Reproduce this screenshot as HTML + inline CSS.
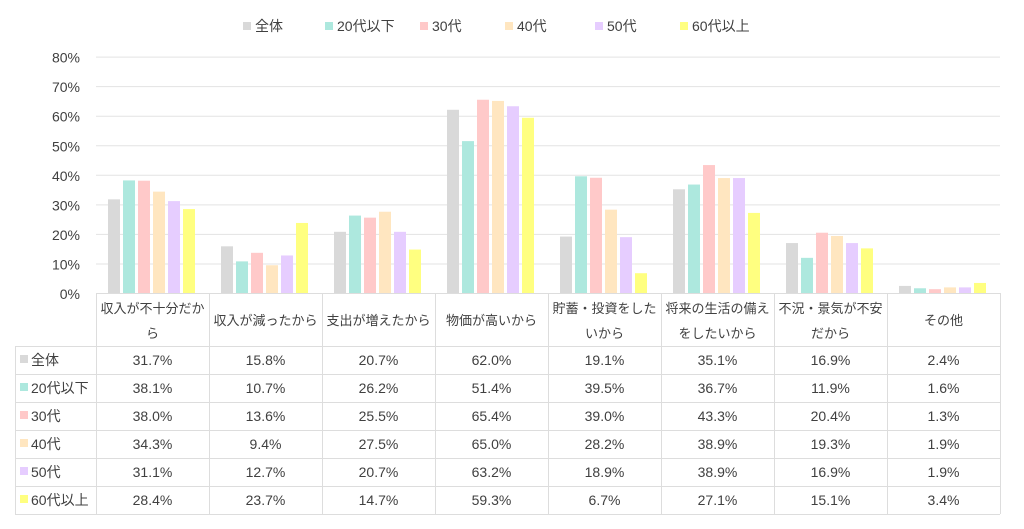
<!DOCTYPE html>
<html><head><meta charset="utf-8"><style>
body{margin:0;background:#fff;}
svg text{font-family:"Liberation Sans","Noto Sans CJK JP",sans-serif;fill:#404040;}
</style></head><body>
<svg width="1024" height="524" xmlns="http://www.w3.org/2000/svg">
<g font-size="14">
<rect x="243" y="22" width="8" height="8" fill="#d9d9d9"/><text x="255" y="31">全体</text>
<rect x="325" y="22" width="8" height="8" fill="#ade8de"/><text x="337" y="31">20代以下</text>
<rect x="420" y="22" width="8" height="8" fill="#ffc9c9"/><text x="432" y="31">30代</text>
<rect x="505" y="22" width="8" height="8" fill="#ffe6c0"/><text x="517" y="31">40代</text>
<rect x="595" y="22" width="8" height="8" fill="#e6cdff"/><text x="607" y="31">50代</text>
<rect x="680" y="22" width="8" height="8" fill="#ffff80"/><text x="692" y="31">60代以上</text>
</g>
<g id="grid" stroke="#e3e3e3" stroke-width="1"></g>
<g id="bars"></g>
<g id="tbl"></g>
<script>
var ns="http://www.w3.org/2000/svg";
function el(p,t,a,txt){var e=document.createElementNS(ns,t);for(var k in a)e.setAttribute(k,a[k]);if(txt!=null)e.textContent=txt;document.getElementById(p).appendChild(e);return e;}
var y0=293,u=2.955;
for(var i=0;i<=8;i++){var y=y0-i*10*u;if(i>0)el("grid","line",{x1:96,x2:1000,y1:y+.5,y2:y+.5});el("grid","text",{x:80,y:y+6,"font-size":14,"text-anchor":"end",stroke:"none"},(i*10)+"%");}
var cols=["#d9d9d9","#ade8de","#ffc9c9","#ffe6c0","#e6cdff","#ffff80"];
var names=["全体","20代以下","30代","40代","50代","60代以上"];
var d=[[31.7,15.8,20.7,62.0,19.1,35.1,16.9,2.4],[38.1,10.7,26.2,51.4,39.5,36.7,11.9,1.6],[38.0,13.6,25.5,65.4,39.0,43.3,20.4,1.3],[34.3,9.4,27.5,65.0,28.2,38.9,19.3,1.9],[31.1,12.7,20.7,63.2,18.9,38.9,16.9,1.9],[28.4,23.7,14.7,59.3,6.7,27.1,15.1,3.4]];
var cw=113;
for(var c=0;c<8;c++)for(var s=0;s<6;s++){var h=d[s][c]*u;el("bars","rect",{x:96+c*cw+12+s*15,y:y0-h,width:12,height:h,fill:cols[s]});}
var heads=[["収入が不十分だか","ら"],["収入が減ったから"],["支出が増えたから"],["物価が高いから"],["貯蓄・投資をした","いから"],["将来の生活の備え","をしたいから"],["不況・景気が不安","だから"],["その他"]];
var rows=[293,346,374,402,430,458,486,514];
el("tbl","line",{x1:96,x2:1000,y1:293.5,y2:293.5,stroke:"#ddd"});
for(var r=1;r<8;r++)el("tbl","line",{x1:15,x2:1000,y1:rows[r]+.5,y2:rows[r]+.5,stroke:"#ddd"});
el("tbl","line",{x1:15.5,x2:15.5,y1:346,y2:514,stroke:"#ddd"});
for(var c=0;c<=8;c++)el("tbl","line",{x1:96+c*cw+.5,x2:96+c*cw+.5,y1:293,y2:514,stroke:"#ddd"});
for(var c=0;c<8;c++){var cx=96+c*cw+cw/2,hh=heads[c];
 if(hh.length==1)el("tbl","text",{x:cx,y:325,"font-size":13,"text-anchor":"middle"},hh[0]);
 else{el("tbl","text",{x:cx,y:313,"font-size":13,"text-anchor":"middle"},hh[0]);el("tbl","text",{x:cx,y:338,"font-size":13,"text-anchor":"middle"},hh[1]);}
 for(var s=0;s<6;s++)el("tbl","text",{x:cx,y:rows[s+1]+19,"font-size":14,"text-anchor":"middle"},d[s][c].toFixed(1)+"%");}
for(var s=0;s<6;s++){el("tbl","rect",{x:20,y:rows[s+1]+9,width:8,height:8,fill:cols[s]});el("tbl","text",{x:31,y:rows[s+1]+19,"font-size":14},names[s]);}
</script>
</svg>
</body></html>
